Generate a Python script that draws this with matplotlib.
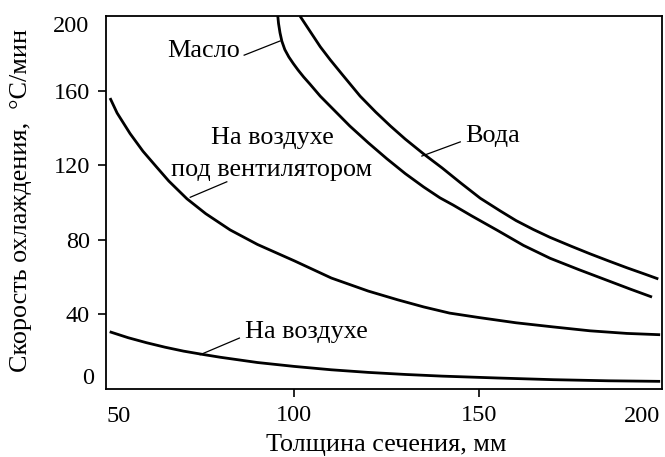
import matplotlib
matplotlib.use("Agg")
import matplotlib.pyplot as plt

plt.rcParams['font.family'] = ['Liberation Serif', 'DejaVu Serif']
plt.rcParams['font.size'] = 18.8

# скорость охлаждения в зависимости от толщины сечения
air_x = [50, 55, 60, 65, 70, 75, 80, 90, 100, 110, 120, 130, 140, 155, 170, 185, 199]
air_y = [30.7, 27.5, 24.8, 22.4, 20.3, 18.6, 17.0, 14.2, 12.1, 10.3, 8.9, 7.8, 6.9, 5.9, 5.0, 4.4, 4.1]

fan_x = [50.1, 52, 55.5, 59, 62.7, 66, 70.9, 76, 82.6, 90, 100, 110, 120, 128, 135, 142,
         150, 160, 170, 180, 190, 199]
fan_y = [156, 148, 137, 127.5, 119, 111.5, 102, 94, 85.3, 77.5, 68.7, 59.5, 52.5, 47.8, 44,
         40.7, 38.3, 35.5, 33.3, 31.2, 29.8, 29.1]

oil_x = [95.5, 95.7, 96.1, 96.6, 97.4, 98.5, 99.7, 101, 102.5, 104.2, 107, 110, 115, 120,
         125, 130, 135, 139.4, 143, 148, 155, 162, 169.2, 177, 185, 191, 196.8]
oil_y = [200, 196, 191, 186.5, 182, 178, 174.5, 171, 167.3, 163.5, 157, 151, 141, 132,
         123.5, 115.5, 108.3, 102.5, 98.6, 92.8, 85, 77, 70.1, 64, 58, 53.5, 49.3]

water_x = [101.5, 103, 105, 107, 109.7, 113, 117.8, 122, 126, 130, 135, 140, 145, 150.3,
           155.7, 160, 164.7, 169.2, 175, 180, 185, 190, 195, 198.5]
water_y = [200, 195.5, 189.5, 183.5, 176.5, 168.5, 157, 148.5, 141, 134, 126, 118.5, 110.5,
           102.3, 95.5, 90.3, 85.5, 81.3, 76.5, 72.5, 68.7, 65, 61.5, 59]

x_ticks = [100, 150]
y_ticks = [40, 80, 120, 160]
num_size = 17.5

fig = plt.figure(figsize=(6.65, 4.57), dpi=100)
ax = fig.add_axes([106 / 665, 1 - 389 / 457, 556 / 665, 373 / 457])

for xs, ys in [(air_x, air_y), (fan_x, fan_y), (oil_x, oil_y), (water_x, water_y)]:
    ax.plot(xs, ys, color='black', lw=2.0, solid_capstyle='butt', solid_joinstyle='round')

ax.set_xlim(49, 199.5)
ax.set_ylim(0, 200)

for s in ax.spines.values():
    s.set_linewidth(1.3)

ax.set_xticks(x_ticks)
ax.set_yticks(y_ticks)
ax.tick_params(direction='out', length=5.8, width=1.2, pad=5.8, labelsize=num_size)

# подписи крайних значений осей
ax.annotate('0', xy=(0, 0), xycoords=('axes fraction', 'data'), xytext=(-12, 5),
            textcoords='offset pixels', ha='right', va='baseline', fontsize=num_size)
ax.annotate('200', xy=(0, 200), xycoords=('axes fraction', 'data'), xytext=(-17, -16.5),
            textcoords='offset pixels', ha='right', va='baseline', fontsize=num_size)
ax.annotate('50', xy=(0, 0), xycoords='axes fraction', xytext=(1, -33.5),
            textcoords='offset pixels', ha='left', va='baseline', fontsize=num_size)
ax.annotate('200', xy=(1, 0), xycoords='axes fraction', xytext=(-2, -33.5),
            textcoords='offset pixels', ha='right', va='baseline', fontsize=num_size)

# подписи кривых с выносками
thin = dict(color='black', lw=0.9)
ax.text(65.5, 178.1, 'Масло', ha='left', va='baseline')
ax.plot([86.4, 96.1], [179.0, 186.6], **thin)

ax.text(93.9, 131.3, 'На воздухе', ha='center', va='baseline')
ax.text(93.9, 114.2, 'под вентилятором', ha='center', va='baseline')
ax.plot([81.7, 71.8], [111.1, 102.8], **thin)

ax.text(146.2, 132.5, 'Вода', ha='left', va='baseline')
ax.plot([144.9, 134.5], [132.5, 124.9], **thin)

ax.text(86.7, 27.2, 'На воздухе', ha='left', va='baseline')
ax.plot([85.1, 74.5], [27.3, 18.4], **thin)

fig.text(386 / 665, 6.5 / 457, 'Толщина сечения, мм', ha='center', va='baseline')
fig.text(21 / 665, 1 - 200.5 / 457, 'Скорость охлаждения,  °С/мин', rotation=90,
         ha='center', va='center')

fig.savefig('out.png', dpi=100)
